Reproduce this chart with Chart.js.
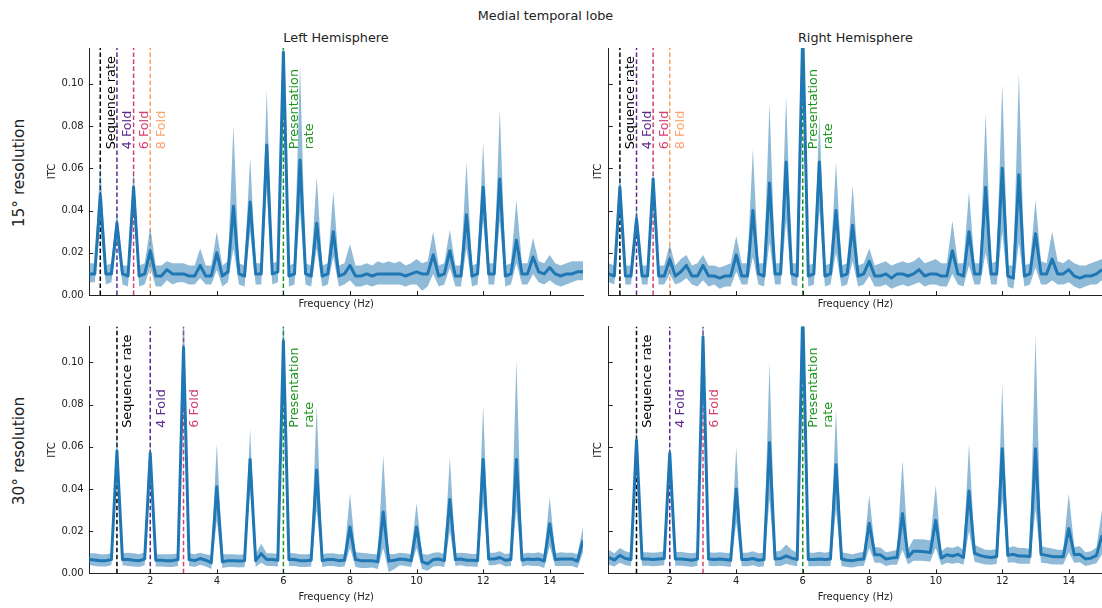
<!DOCTYPE html>
<html>
<head>
<meta charset="utf-8">
<title>Medial temporal lobe</title>
<script src="https://cdn.jsdelivr.net/npm/chart.js@4.4.1/dist/chart.umd.min.js"></script>
<style>
html,body{margin:0;padding:0;background:#fff}
body{position:relative;width:1102px;height:608px;overflow:hidden;font-family:"DejaVu Sans",sans-serif;color:#222}
canvas{position:absolute}
.lbl{position:absolute;white-space:nowrap;line-height:1;transform:translate(-50%,-50%)}
.rot{transform:translate(-50%,-50%) rotate(-90deg)}
</style>
</head>
<body>
<div class="lbl" style="left:545.5px;top:15.7px;font-size:12.8px">Medial temporal lobe</div>
<div class="lbl" style="left:336px;top:38px;font-size:12.8px">Left Hemisphere</div>
<div class="lbl" style="left:855.4px;top:38px;font-size:12.8px">Right Hemisphere</div>
<div class="lbl rot" style="left:19.5px;top:173px;font-size:15.4px">15° resolution</div>
<div class="lbl rot" style="left:19.5px;top:451px;font-size:15.4px">30° resolution</div>
<canvas id="c15L" width="590" height="275" style="left:0;top:36px"></canvas>
<canvas id="c15R" width="512" height="275" style="left:590px;top:36px"></canvas>
<canvas id="c30L" width="590" height="294" style="left:0;top:314px"></canvas>
<canvas id="c30R" width="512" height="294" style="left:590px;top:314px"></canvas>
<script>
// ---------- frequency bins / ticks ----------
const FREQ_STEP = 1 / 6;
const N_BINS = 90;
const freqBins = Array.from({length: N_BINS}, (_, i) => (i + 1) * FREQ_STEP);
const X_MAX = 15;
const Y_MAX = 0.117;
const xTickValues = [2, 4, 6, 8, 10, 12, 14];
const yTickValues = [0, 0.02, 0.04, 0.06, 0.08, 0.10];

// ---------- marker lines ----------
const markers15Freq = [0.5, 1, 1.5, 2, 6];
const markers15Label = [['Sequence rate'], ['4 Fold'], ['6 Fold'], ['8 Fold'], ['Presentation', 'rate']];
const markers15Color = ['#000000', '#5b2a8c', '#d6406e', '#f8a46e', '#1f941f'];
const markers30Freq = [1, 2, 3, 6];
const markers30Label = [['Sequence rate'], ['4 Fold'], ['6 Fold'], ['Presentation', 'rate']];
const markers30Color = ['#000000', '#5b2a8c', '#d6406e', '#1f941f'];
const MARK_LABEL_Y = 0.069;

// ---------- 15° resolution, left hemisphere ----------
const lh15Mean = [
0.010,0.010,0.047,0.010,0.010,0.034,0.010,0.009,0.051,0.009,
0.010,0.021,0.009,0.009,0.012,0.010,0.010,0.010,0.009,0.009,
0.014,0.009,0.009,0.020,0.009,0.011,0.042,0.010,0.009,0.044,
0.010,0.010,0.071,0.010,0.011,0.115,0.009,0.010,0.064,0.010,
0.009,0.034,0.009,0.010,0.030,0.009,0.010,0.014,0.009,0.009,
0.010,0.009,0.010,0.010,0.010,0.010,0.010,0.009,0.010,0.011,
0.010,0.010,0.019,0.009,0.010,0.021,0.009,0.009,0.038,0.009,
0.010,0.051,0.010,0.010,0.055,0.009,0.010,0.026,0.010,0.010,
0.018,0.011,0.010,0.013,0.010,0.009,0.010,0.010,0.011,0.011];
const lh15High = [
0.015,0.015,0.062,0.014,0.015,0.040,0.014,0.014,0.060,0.014,
0.015,0.032,0.014,0.014,0.016,0.015,0.015,0.015,0.014,0.014,
0.022,0.014,0.014,0.030,0.014,0.016,0.080,0.015,0.014,0.065,
0.015,0.015,0.097,0.015,0.016,0.130,0.014,0.015,0.109,0.015,
0.014,0.056,0.014,0.015,0.049,0.014,0.015,0.024,0.014,0.014,
0.015,0.014,0.016,0.015,0.016,0.015,0.016,0.014,0.015,0.017,
0.015,0.016,0.030,0.014,0.015,0.031,0.014,0.014,0.063,0.014,
0.015,0.072,0.015,0.015,0.088,0.014,0.015,0.045,0.015,0.015,
0.027,0.016,0.015,0.019,0.015,0.014,0.015,0.016,0.016,0.016];
const lh15Low = [
0.006,0.006,0.033,0.005,0.006,0.026,0.005,0.004,0.041,0.004,
0.005,0.013,0.004,0.004,0.007,0.005,0.006,0.006,0.005,0.005,
0.008,0.005,0.005,0.012,0.004,0.006,0.022,0.005,0.004,0.030,
0.005,0.005,0.050,0.005,0.006,0.095,0.004,0.005,0.040,0.005,
0.004,0.022,0.004,0.005,0.018,0.004,0.005,0.007,0.004,0.004,
0.005,0.004,0.005,0.005,0.005,0.005,0.005,0.004,0.005,0.005,
0.002,0.004,0.010,0.004,0.005,0.013,0.004,0.004,0.022,0.004,
0.005,0.035,0.005,0.005,0.035,0.004,0.005,0.015,0.005,0.005,
0.010,0.006,0.005,0.007,0.005,0.004,0.005,0.006,0.007,0.007];

// ---------- 15° resolution, right hemisphere ----------
const rh15Mean = [
0.010,0.009,0.051,0.009,0.009,0.036,0.009,0.009,0.055,0.009,
0.009,0.017,0.009,0.011,0.014,0.009,0.009,0.014,0.009,0.009,
0.008,0.009,0.009,0.019,0.009,0.009,0.040,0.010,0.009,0.053,
0.010,0.010,0.063,0.010,0.009,0.125,0.009,0.010,0.063,0.009,
0.010,0.040,0.009,0.010,0.033,0.009,0.010,0.016,0.009,0.009,
0.010,0.008,0.010,0.010,0.009,0.010,0.012,0.009,0.010,0.010,
0.009,0.009,0.021,0.010,0.009,0.030,0.010,0.010,0.051,0.010,
0.010,0.060,0.009,0.008,0.057,0.009,0.010,0.029,0.010,0.010,
0.017,0.010,0.010,0.012,0.009,0.008,0.009,0.009,0.010,0.012];
const rh15High = [
0.015,0.014,0.060,0.014,0.014,0.042,0.014,0.014,0.060,0.014,
0.014,0.024,0.014,0.017,0.019,0.014,0.015,0.019,0.014,0.014,
0.013,0.014,0.015,0.028,0.015,0.015,0.069,0.015,0.015,0.091,
0.015,0.015,0.094,0.015,0.015,0.140,0.014,0.015,0.085,0.014,
0.015,0.063,0.014,0.015,0.052,0.014,0.015,0.022,0.014,0.015,
0.016,0.014,0.015,0.016,0.015,0.016,0.018,0.015,0.016,0.017,
0.015,0.015,0.035,0.015,0.015,0.049,0.015,0.015,0.086,0.015,
0.016,0.100,0.014,0.014,0.105,0.014,0.015,0.045,0.016,0.015,
0.030,0.016,0.015,0.017,0.015,0.014,0.014,0.015,0.016,0.017];
const rh15Low = [
0.006,0.005,0.040,0.005,0.005,0.028,0.005,0.005,0.045,0.005,
0.005,0.010,0.005,0.006,0.008,0.005,0.004,0.007,0.004,0.005,
0.003,0.004,0.004,0.011,0.005,0.005,0.018,0.005,0.004,0.025,
0.005,0.005,0.035,0.005,0.004,0.100,0.004,0.005,0.040,0.004,
0.005,0.020,0.004,0.005,0.016,0.004,0.005,0.009,0.004,0.004,
0.005,0.003,0.004,0.005,0.004,0.005,0.006,0.004,0.005,0.005,
0.004,0.004,0.010,0.005,0.004,0.014,0.005,0.005,0.020,0.005,
0.005,0.030,0.004,0.003,0.025,0.004,0.005,0.013,0.005,0.005,
0.007,0.005,0.005,0.006,0.004,0.003,0.004,0.005,0.005,0.007];

// ---------- 30° resolution, left hemisphere ----------
const lh30Mean = [
0.0065,0.0063,0.0060,0.0060,0.0065,0.058,0.0065,0.0065,0.0062,0.0060,
0.0068,0.057,0.0062,0.0062,0.0060,0.0060,0.0065,0.107,0.0065,0.0060,
0.0070,0.0062,0.0050,0.041,0.0055,0.0060,0.0060,0.0058,0.0060,0.054,
0.0060,0.0093,0.0065,0.0065,0.0062,0.110,0.0065,0.0065,0.0060,0.0060,
0.0062,0.049,0.0060,0.0065,0.0065,0.0060,0.0062,0.022,0.0065,0.0060,
0.0060,0.0060,0.0055,0.029,0.0058,0.0062,0.0068,0.0065,0.0060,0.022,
0.0055,0.0045,0.0065,0.0068,0.0060,0.035,0.0065,0.0068,0.0062,0.0062,
0.0060,0.054,0.0068,0.0068,0.0075,0.0062,0.0065,0.054,0.0062,0.0068,
0.0065,0.0068,0.0058,0.0235,0.0065,0.0068,0.0068,0.0068,0.0058,0.0156];
const lh30High = [
0.0095,0.0095,0.0090,0.0090,0.0095,0.066,0.0095,0.0098,0.0095,0.0090,
0.0100,0.063,0.0090,0.0090,0.0090,0.0090,0.0095,0.130,0.0095,0.0090,
0.0098,0.0090,0.0085,0.0614,0.0090,0.0090,0.0090,0.0088,0.0090,0.0686,
0.0090,0.0140,0.0095,0.0095,0.0090,0.130,0.0095,0.0095,0.0090,0.0090,
0.0092,0.0796,0.0090,0.0095,0.0095,0.0090,0.0092,0.0378,0.0100,0.0098,
0.0095,0.0092,0.0090,0.056,0.0090,0.0092,0.0098,0.0095,0.0090,0.0333,
0.0092,0.0088,0.0098,0.0100,0.0092,0.0551,0.0095,0.0098,0.0095,0.0092,
0.0092,0.0796,0.0098,0.0098,0.0105,0.0092,0.0095,0.101,0.0092,0.0098,
0.0095,0.0100,0.0090,0.0362,0.0095,0.0100,0.0098,0.0098,0.0090,0.0220];
const lh30Low = [
0.0040,0.0035,0.0032,0.0032,0.0038,0.048,0.0038,0.0035,0.0032,0.0030,
0.0038,0.048,0.0032,0.0032,0.0030,0.0030,0.0035,0.090,0.0035,0.0030,
0.0040,0.0032,0.0020,0.025,0.0025,0.0030,0.0030,0.0028,0.0030,0.040,
0.0030,0.0050,0.0035,0.0035,0.0032,0.093,0.0035,0.0035,0.0030,0.0030,
0.0032,0.030,0.0030,0.0035,0.0035,0.0030,0.0032,0.012,0.0030,0.0025,
0.0025,0.0028,0.0020,0.012,0.0005,0.0020,0.0038,0.0035,0.0030,0.012,
0.0020,0.0012,0.0032,0.0035,0.0030,0.020,0.0035,0.0038,0.0032,0.0032,
0.0030,0.033,0.0038,0.0038,0.0045,0.0032,0.0035,0.030,0.0032,0.0038,
0.0035,0.0035,0.0025,0.013,0.0035,0.0035,0.0035,0.0035,0.0025,0.010];

// ---------- 30° resolution, right hemisphere ----------
const rh30Mean = [
0.0075,0.0063,0.0085,0.0070,0.0065,0.063,0.0068,0.0068,0.0065,0.0068,
0.0070,0.057,0.0068,0.0068,0.0065,0.0062,0.0068,0.112,0.0068,0.0065,
0.0068,0.0065,0.0062,0.040,0.0065,0.0065,0.0070,0.0062,0.0065,0.062,
0.0068,0.0070,0.0083,0.0072,0.0065,0.125,0.0065,0.0065,0.0068,0.0065,
0.0068,0.0515,0.0068,0.0062,0.0060,0.0065,0.0068,0.0237,0.0088,0.0088,
0.0068,0.0072,0.0075,0.0283,0.0078,0.0105,0.0105,0.0102,0.0098,0.0251,
0.0072,0.0088,0.0082,0.0090,0.0075,0.039,0.0095,0.0085,0.0078,0.0075,
0.0080,0.059,0.0085,0.0090,0.0082,0.0082,0.0080,0.059,0.0090,0.0085,
0.0080,0.0078,0.0078,0.0212,0.0088,0.0090,0.0068,0.0072,0.0085,0.018];
const rh30High = [
0.0110,0.0095,0.0120,0.0105,0.0098,0.072,0.0100,0.0100,0.0098,0.0100,
0.0105,0.062,0.0100,0.0102,0.0098,0.0095,0.0100,0.130,0.0100,0.0098,
0.0100,0.0098,0.0095,0.060,0.0098,0.0098,0.0105,0.0095,0.0098,0.100,
0.0102,0.0108,0.0136,0.0112,0.0098,0.140,0.0098,0.0098,0.0102,0.0098,
0.0102,0.078,0.0100,0.0095,0.0090,0.0098,0.0102,0.037,0.0125,0.0122,
0.0100,0.0105,0.0110,0.0536,0.0115,0.0162,0.0162,0.0160,0.0155,0.0417,
0.0105,0.0125,0.0120,0.0130,0.0110,0.0615,0.0135,0.0122,0.0112,0.0110,
0.0115,0.0899,0.0120,0.0128,0.0120,0.0120,0.0115,0.1128,0.0130,0.0122,
0.0118,0.0112,0.0112,0.0378,0.0125,0.0128,0.0100,0.0105,0.0122,0.0299];
const rh30Low = [
0.0040,0.0032,0.0050,0.0038,0.0035,0.052,0.0036,0.0036,0.0033,0.0036,
0.0038,0.050,0.0036,0.0036,0.0033,0.0030,0.0036,0.095,0.0036,0.0033,
0.0036,0.0033,0.0030,0.024,0.0033,0.0033,0.0038,0.0030,0.0033,0.035,
0.0035,0.0035,0.0045,0.0038,0.0033,0.110,0.0033,0.0033,0.0035,0.0033,
0.0035,0.030,0.0035,0.0030,0.0028,0.0033,0.0035,0.012,0.0050,0.0050,
0.0035,0.0040,0.0040,0.011,0.0042,0.0060,0.0060,0.0058,0.0055,0.012,
0.0038,0.0050,0.0045,0.0050,0.0040,0.020,0.0055,0.0048,0.0042,0.0040,
0.0045,0.035,0.0050,0.0052,0.0045,0.0045,0.0045,0.030,0.0050,0.0048,
0.0042,0.0042,0.0042,0.010,0.0050,0.0052,0.0035,0.0040,0.0048,0.009];

// ---------- styles ----------
const LINE_COLOR = '#1f77b4';
const BAND_COLOR = 'rgba(31,119,180,0.5)';
const AXIS_COLOR = '#222222';
const TEXT_COLOR = '#222222';
const LABEL_OFFSET_PX = 14.5;
const LABEL_LINE_GAP = 15;

Chart.defaults.font.family = "'DejaVu Sans', sans-serif";

const inwardTicks = {
  id: 'inwardTicks',
  afterDraw(chart) {
    const {ctx, chartArea: a, scales: {x, y}} = chart;
    ctx.save();
    ctx.strokeStyle = AXIS_COLOR;
    ctx.lineWidth = 1;
    ctx.beginPath();
    x.ticks.forEach(t => {
      const px = Math.round(x.getPixelForValue(t.value)) + 0.5;
      ctx.moveTo(px, a.bottom);
      ctx.lineTo(px, a.bottom - 4);
    });
    y.ticks.forEach(t => {
      const py = Math.round(y.getPixelForValue(t.value)) + 0.5;
      ctx.moveTo(a.left, py);
      ctx.lineTo(a.left + 4, py);
    });
    ctx.stroke();
    ctx.restore();
  }
};

function makeMarkers(freqs, labels, colors) {
  return {
    id: 'freqMarkers',
    // dashed lines sit under the mean line but above the shaded band
    beforeDatasetDraw(chart, args) {
      if (args.index !== 2) return;
      const {ctx, chartArea: a, scales: {x}} = chart;
      ctx.save();
      ctx.beginPath();
      ctx.rect(a.left, a.top, a.right - a.left, a.bottom - a.top);
      ctx.clip();
      freqs.forEach((f, i) => {
        const px = x.getPixelForValue(f);
        ctx.strokeStyle = colors[i];
        ctx.lineWidth = 1.5;
        ctx.setLineDash([4.5, 2.5]);
        ctx.beginPath();
        ctx.moveTo(px, a.bottom);
        ctx.lineTo(px, a.top);
        ctx.stroke();
      });
      ctx.restore();
    },
    afterDatasetsDraw(chart) {
      const {ctx, scales: {x, y}} = chart;
      ctx.save();
      ctx.font = "12.8px 'DejaVu Sans'";
      ctx.textAlign = 'left';
      ctx.textBaseline = 'alphabetic';
      const py = y.getPixelForValue(MARK_LABEL_Y);
      freqs.forEach((f, i) => {
        const px = x.getPixelForValue(f);
        ctx.fillStyle = colors[i];
        labels[i].forEach((ln, j) => {
          ctx.save();
          ctx.translate(px + LABEL_OFFSET_PX + j * LABEL_LINE_GAP, py);
          ctx.rotate(-Math.PI / 2);
          ctx.fillText(ln, 0, 0);
          ctx.restore();
        });
      });
      ctx.restore();
    }
  };
}

function buildChart(id, c) {
  const pts = arr => freqBins.map((f, i) => ({x: f, y: arr[i]}));
  return new Chart(document.getElementById(id), {
    type: 'line',
    data: {
      datasets: [
        {data: pts(c.lo), borderWidth: 0, borderColor: 'rgba(0,0,0,0)', pointRadius: 0, fill: false, clip: 0},
        {data: pts(c.hi), borderWidth: 0, borderColor: 'rgba(0,0,0,0)', backgroundColor: BAND_COLOR, pointRadius: 0, fill: '-1', clip: 0},
        {data: pts(c.mean), borderColor: LINE_COLOR, borderWidth: 3, pointRadius: 0, fill: false, clip: 0,
         borderJoinStyle: 'round', borderCapStyle: 'butt'}
      ]
    },
    options: {
      responsive: false,
      animation: false,
      devicePixelRatio: 1,
      events: [],
      layout: {padding: {top: c.padTop, right: c.padRight, left: 0, bottom: 0}},
      plugins: {legend: {display: false}, tooltip: {enabled: false}},
      elements: {line: {tension: 0}, point: {radius: 0}},
      scales: {
        x: {
          type: 'linear', min: freqBins[0], max: X_MAX,
          afterBuildTicks: s => { s.ticks = xTickValues.map(v => ({value: v})); },
          afterFit: s => { s.height = c.xAxisHeight; },
          grid: {display: false, drawTicks: false},
          border: {display: true, color: AXIS_COLOR, width: 1},
          ticks: {display: c.showX, autoSkip: false, maxRotation: 0, padding: 2.4, color: TEXT_COLOR,
                  font: {size: 10}, callback: v => String(v)},
          title: {display: true, text: 'Frequency (Hz)', color: TEXT_COLOR, font: {size: 10},
                  padding: {top: 0, bottom: c.xTitlePad}}
        },
        y: {
          type: 'linear', min: 0, max: Y_MAX,
          afterBuildTicks: s => { s.ticks = yTickValues.map(v => ({value: v})); },
          afterFit: s => { s.width = c.yAxisWidth; },
          grid: {display: false, drawTicks: false},
          border: {display: true, color: AXIS_COLOR, width: 1},
          ticks: {display: c.showY, autoSkip: false, padding: 5.5, color: TEXT_COLOR,
                  font: {size: 10}, callback: v => Number(v).toFixed(2)},
          title: {display: true, text: 'ITC', color: TEXT_COLOR, font: {size: 10},
                  padding: {top: c.yTitlePad, bottom: 0}}
        }
      }
    },
    plugins: [inwardTicks, makeMarkers(c.mFreq, c.mLabel, c.mColor)]
  });
}

buildChart('c15L', {mean: lh15Mean, lo: lh15Low, hi: lh15High, showX: false, showY: true,
  yAxisWidth: 89.2, yTitlePad: 46.5, xAxisHeight: 16, xTitlePad: 1, padTop: 12, padRight: 7,
  mFreq: markers15Freq, mLabel: markers15Label, mColor: markers15Color});
buildChart('c15R', {mean: rh15Mean, lo: rh15Low, hi: rh15High, showX: false, showY: false,
  yAxisWidth: 18.8, yTitlePad: 2.3, xAxisHeight: 16, xTitlePad: 1, padTop: 12, padRight: 0,
  mFreq: markers15Freq, mLabel: markers15Label, mColor: markers15Color});
buildChart('c30L', {mean: lh30Mean, lo: lh30Low, hi: lh30High, showX: true, showY: true,
  yAxisWidth: 89.2, yTitlePad: 46.5, xAxisHeight: 34.7, xTitlePad: 5, padTop: 12.5, padRight: 7,
  mFreq: markers30Freq, mLabel: markers30Label, mColor: markers30Color});
buildChart('c30R', {mean: rh30Mean, lo: rh30Low, hi: rh30High, showX: true, showY: false,
  yAxisWidth: 18.8, yTitlePad: 2.3, xAxisHeight: 34.7, xTitlePad: 5, padTop: 12.5, padRight: 0,
  mFreq: markers30Freq, mLabel: markers30Label, mColor: markers30Color});
</script>
</body>
</html>
